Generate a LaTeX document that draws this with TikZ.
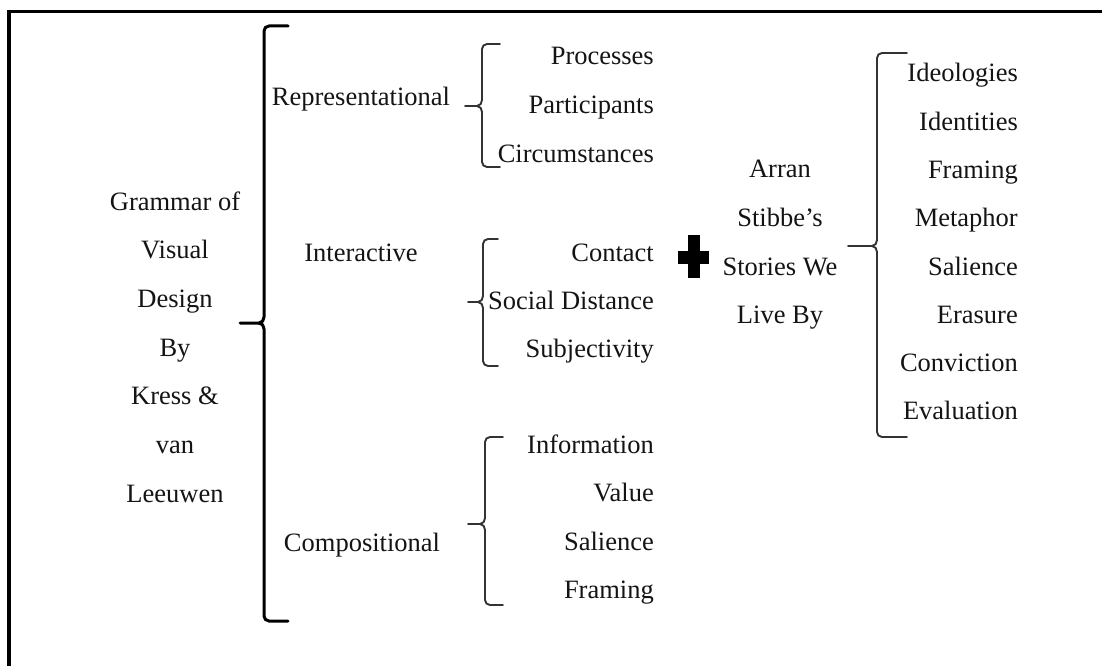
\documentclass[tikz,border=0pt]{standalone}
\usepackage{fontspec}
\setmainfont{Liberation Serif}

% A curly brace opening to the right: name, x of the stem, top y, bottom y,
% y of the point, x of the point, x where the two hooks end
\newcommand\curlybrace[7]{%
  \coordinate (#1-tip) at (#6,#5);
  \coordinate (#1-top) at (#7,#3);
  \coordinate (#1-bot) at (#7,#4);
  \draw (#1-top) -- (#2+5,#3) to[out=180,in=90] (#2,#3+5)
        -- (#2,#5-6) to[out=-90,in=0] (#2-5,#5) -- (#1-tip);
  \draw (#2-5,#5) to[out=0,in=90] (#2,#5+6)
        -- (#2,#4-5) to[out=-90,in=180] (#2+5,#4) -- (#1-bot);
}

\begin{document}
\begin{tikzpicture}[x=1pt,y=-1pt,
  lbl/.style={inner sep=0pt, text=black!92, font=\fontsize{26.5}{30}\selectfont},
  item/.style={lbl, anchor=base east},
  mid/.style={lbl, anchor=base},
  bigbrace/.style={line width=3pt, line cap=round, line join=round, draw=black},
  smallbrace/.style={line width=1.9pt, line cap=round, line join=round, draw=black!80},
  frame/.style={line width=3.5pt, draw=black}]

\useasboundingbox (0,0) rectangle (1102,666);
\fill[white] (0,0) rectangle (1102,666);

% open frame: top and left rules
\draw[frame] (7.5,11.5) -- (1102,11.5);
\draw[frame] (9,10) -- (9,666);

% main title
\node[mid] (g1) at (175,210)   {Grammar of};
\node[mid] (g2) at (175,258.7) {Visual};
\node[mid] (g3) at (175,307.4) {Design};
\node[mid] (g4) at (175,356)   {By};
\node[mid] (g5) at (175,404.8) {Kress \&};
\node[mid] (g6) at (175,453.5) {van};
\node[mid] (g7) at (175,502)   {Leeuwen};

\begin{scope}[bigbrace]
  \curlybrace{main}{264}{26}{621}{323}{240}{288}
\end{scope}

% metafunctions
\node[mid] (rep) at (361,106) {Representational};
\node[mid] (int) at (361,261) {Interactive};
\node[mid] (com) at (362,551) {Compositional};

\begin{scope}[smallbrace]
  \curlybrace{brep}{482}{44}{167}{106}{465}{500}
  \curlybrace{bint}{483}{239}{366}{302}{468}{498}
  \curlybrace{bcom}{485}{437}{605}{524}{468}{503}
  \curlybrace{bsto}{877}{53}{437}{246}{848}{907}
\end{scope}

% representational
\node[item] (r1) at (654,65)  {Processes};
\node[item] (r2) at (654,113.5) {Participants};
\node[item] (r3) at (654,162) {Circumstances};

% interactive
\node[item] (i1) at (654,261) {Contact};
\node[item] (i2) at (654,309) {Social Distance};
\node[item] (i3) at (654,357) {Subjectivity};

% compositional
\node[item] (c1) at (654,453)   {Information};
\node[item] (c2) at (654,501.5) {Value};
\node[item] (c3) at (654,550)   {Salience};
\node[item] (c4) at (654,598.5) {Framing};

% plus sign
\fill[black] (688,235) rectangle (700,278);
\fill[black] (678,251) rectangle (709,264);

% second framework
\node[mid] (s1) at (780,177) {Arran};
\node[mid] (s2) at (780,226) {Stibbe’s};
\node[mid] (s3) at (780,275) {Stories We};
\node[mid] (s4) at (780,323) {Live By};

\node[item] (t1) at (1018,82)  {Ideologies};
\node[item] (t2) at (1018,130) {Identities};
\node[item] (t3) at (1018,178) {Framing};
\node[item] (t4) at (1018,226) {Metaphor};
\node[item] (t5) at (1018,275) {Salience};
\node[item] (t6) at (1018,323) {Erasure};
\node[item] (t7) at (1018,371) {Conviction};
\node[item] (t8) at (1018,419) {Evaluation};

\end{tikzpicture}
\end{document}
